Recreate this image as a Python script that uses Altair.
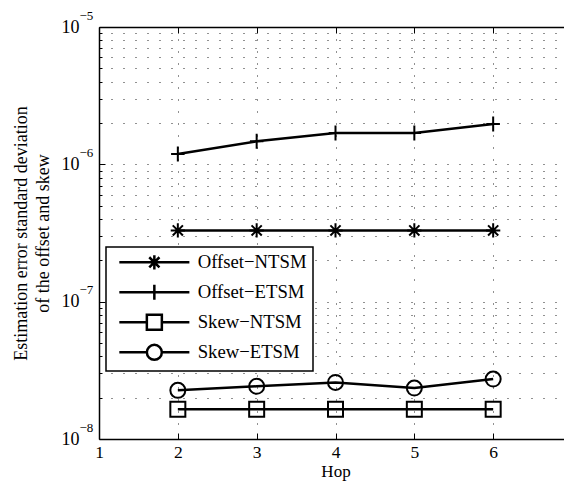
import altair as alt
import pandas as pd

# ---- data ----
hops = [2, 3, 4, 5, 6]
series_names = ["Offset−NTSM", "Offset−ETSM", "Skew−NTSM", "Skew−ETSM"]
offset_ntsm = [3.3e-7, 3.3e-7, 3.3e-7, 3.3e-7, 3.3e-7]
offset_etsm = [1.19e-6, 1.47e-6, 1.69e-6, 1.69e-6, 1.97e-6]
skew_ntsm = [1.65e-8, 1.65e-8, 1.65e-8, 1.65e-8, 1.65e-8]
skew_etsm = [2.26e-8, 2.42e-8, 2.58e-8, 2.35e-8, 2.73e-8]

x_tick_values = [1, 2, 3, 4, 5, 6]
y_decades = [1e-8, 1e-7, 1e-6, 1e-5]
y_minor = [m * d for d in (1e-8, 1e-7, 1e-6) for m in range(2, 10)]

series_values = [offset_ntsm, offset_etsm, skew_ntsm, skew_etsm]

rows = []
for name, vals in zip(series_names, series_values):
    for h, v in zip(hops, vals):
        rows.append({"hop": h, "value": v, "series": name})
df = pd.DataFrame(rows)

# marker shapes (unit coordinates)
ast = "M-0.95,0L0.95,0M0,-0.95L0,0.95M-0.68,-0.68L0.68,0.68M-0.68,0.68L0.68,-0.68"
plus = "M-0.9,0L0.9,0M0,-1L0,1"
square = "M-1,-1L1,-1L1,1L-1,1Z"
circle = "M1,0A1,1 0 1,1 -1,0A1,1 0 1,1 1,0Z"
marker_paths = [ast, plus, square, circle]
stub = "M-4.67,0L-1,0M1,0L4.67,0"
stub_full = "M-4.67,0L4.67,0"
legend_paths = [stub_full + ast, stub_full + plus, stub + square, stub + circle]

W, H = 473, 412
FONT = "Liberation Serif"

x_scale = alt.Scale(domain=[1, 7], nice=False, zero=False)
y_scale = alt.Scale(type="log", domain=[1e-8, 1e-5], nice=False)

base = alt.Chart(df)

lines = base.mark_line(color="black", strokeWidth=2.5).encode(
    x=alt.X("hop:Q", scale=x_scale, axis=alt.Axis(
        values=x_tick_values, title="Hop", grid=True, gridDash=[1, 11],
        gridColor="#222222", gridOpacity=1, ticks=False, tickSize=0,
        labelPadding=4, labelFlush=False, domainColor="black", domainWidth=1.5,
        labelFontSize=17.5, titleFontSize=17, titleFontWeight="normal",
        titlePadding=3, labelColor="black", titleColor="black",
        labelFont=FONT, titleFont=FONT)),
    y=alt.Y("value:Q", scale=y_scale, axis=alt.Axis(
        values=y_decades + y_minor, grid=True, gridDash=[1, 11],
        gridColor="#222222", gridOpacity=1, ticks=False, tickSize=0,
        labelExpr="abs(log(datum.value)/LN10 - round(log(datum.value)/LN10)) < 0.001 ? '10' : ''",
        labelOverlap=False, labelPadding=20, labelFlush=False,
        domainColor="black", domainWidth=1.5, labelFontSize=18,
        labelColor="black", labelFont=FONT,
        title=["Estimation error standard deviation", "of the offset and skew"],
        titleFontSize=18, titleFontWeight="normal", titleLineHeight=22,
        titlePadding=9, titleColor="black", titleFont=FONT)),
    detail="series:N",
)

points = base.mark_point(filled=False, color="black", strokeWidth=2, size=225,
                         opacity=1).encode(
    x=alt.X("hop:Q", scale=x_scale, axis=alt.Axis(
        orient="top", labels=False, ticks=False, domain=True, grid=False,
        title=None, domainColor="black", domainWidth=1.5)),
    y=alt.Y("value:Q", scale=y_scale, axis=alt.Axis(
        orient="left", values=y_decades,
        labelExpr="'−' + (-round(log(datum.value)/LN10))",
        labelAlign="left", labelPadding=20, labelOffset=-12, ticks=False,
        tickSize=0, domain=False, grid=False, title=None, labelFontSize=13,
        labelColor="black", labelFont=FONT, labelOverlap=False, labelFlush=False)),
    shape=alt.Shape("series:N", scale=alt.Scale(domain=series_names,
                                                range=marker_paths), legend=None),
)

tick_major = base.mark_point(opacity=0).encode(
    x=alt.X("hop:Q", scale=x_scale, axis=alt.Axis(
        orient="top", offset=-H, values=hops, labels=False, domain=False,
        grid=False, ticks=True, tickSize=6, tickColor="black", title=None)),
    y=alt.Y("value:Q", scale=y_scale, axis=alt.Axis(
        orient="right", offset=-W, values=y_decades, labels=False, domain=False,
        grid=False, ticks=True, tickSize=6, tickColor="black", title=None)),
)

tick_minor = base.mark_point(opacity=0).encode(
    x=alt.X("hop:Q", scale=x_scale, axis=alt.Axis(
        orient="bottom", offset=-H, values=hops, labels=False, domain=False,
        grid=False, ticks=True, tickSize=6, tickColor="black", title=None)),
    y=alt.Y("value:Q", scale=y_scale, axis=alt.Axis(
        orient="right", offset=-W, values=y_minor, labels=False, domain=False,
        grid=False, ticks=True, tickSize=3, tickColor="black", title=None)),
)

legend_df = pd.DataFrame({"series": series_names})
legend_layer = alt.Chart(legend_df).mark_point(opacity=0, filled=False).encode(
    shape=alt.Shape("series:N", scale=alt.Scale(domain=series_names, range=legend_paths),
                    legend=alt.Legend(
                        title=None, orient="none", legendX=7, legendY=220,
                        padding=6, symbolSize=225, symbolStrokeColor="black",
                        symbolFillColor="transparent", symbolStrokeWidth=2.5,
                        symbolOpacity=1, symbolOffset=33, labelOffset=34,
                        labelFontSize=18.7, labelFont=FONT, labelColor="black",
                        labelExpr="datum.label + '\u00a0\u00a0\u00a0'",
                        rowPadding=4, strokeColor="black", fillColor="white",
                        cornerRadius=0, labelLimit=0)),
)

chart = alt.layer(lines, points, tick_major, tick_minor, legend_layer).resolve_scale(
    shape="independent"
).resolve_axis(
    x="independent", y="independent"
).properties(
    width=W, height=H,
    autosize=alt.AutoSizeParams(type="none"),
    padding={"left": 91, "top": 19, "right": -8, "bottom": 43},
).configure(font=FONT).configure_view(stroke=None).configure_legend(strokeWidth=1.5)

chart.save("out.html", embed_options={"renderer": "svg", "actions": False})
